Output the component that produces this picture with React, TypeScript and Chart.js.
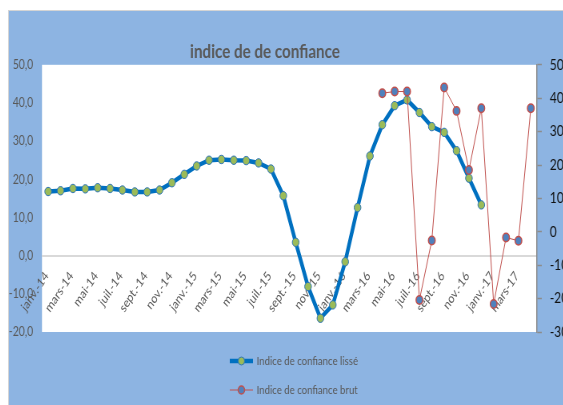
import React, { useEffect, useRef } from 'react';
import { Chart, registerables } from 'chart.js';

Chart.register(...registerables);

const categories = [
  'janv.-14', 'févr.-14', 'mars-14', 'avr.-14', 'mai-14', 'juin-14', 'juil.-14', 'août-14', 'sept.-14', 'oct.-14', 'nov.-14', 'déc.-14',
  'janv.-15', 'févr.-15', 'mars-15', 'avr.-15', 'mai-15', 'juin-15', 'juil.-15', 'août-15', 'sept.-15', 'oct.-15', 'nov.-15', 'déc.-15',
  'janv.-16', 'févr.-16', 'mars-16', 'avr.-16', 'mai-16', 'juin-16', 'juil.-16', 'août-16', 'sept.-16', 'oct.-16', 'nov.-16', 'déc.-16',
  'janv.-17', 'févr.-17', 'mars-17', 'avr.-17',
];

const lisseValues: (number | null)[] = [
  16.8, 17.0, 17.6, 17.5, 17.8, 17.6, 17.2, 16.7, 16.7, 17.2, 19.1, 21.3,
  23.5, 25.0, 25.2, 25.0, 24.9, 24.3, 22.7, 15.7, 3.5, -8.1, -16.4, -12.9,
  -1.6, 12.6, 26.1, 34.3, 39.3, 40.8, 37.5, 33.8, 32.3, 27.5, 20.3, 13.3,
  null, null, null, null,
];

const brutValues: (number | null)[] = [
  null, null, null, null, null, null, null, null, null, null, null, null,
  null, null, null, null, null, null, null, null, null, null, null, null,
  null, null, null, 41.5, 42.0, 42.0, -20.4, -2.6, 43.2, 36.2, 18.5, 37.0,
  -21.6, -1.7, -2.7, 37.0,
];

const seriesNames = ['Indice de confiance lissé', 'Indice de confiance brut'];
const chartTitle = 'indice de de confiance';

const leftAxis = { min: -20, max: 50, step: 10 };
const rightAxis = { min: -30, max: 50, step: 10 };

const BG = '#8DB4E2';
const GREY_TEXT = '#595959';
const FONT = 'Lato';

function makeIcon(lineColor: string, lineWidth: number, fill: string, stroke: string, strokeW: number) {
  const c = document.createElement('canvas');
  c.width = 29;
  c.height = 12;
  const g = c.getContext('2d')!;
  g.strokeStyle = lineColor;
  g.lineWidth = lineWidth;
  g.beginPath();
  g.moveTo(0, 6);
  g.lineTo(29, 6);
  g.stroke();
  g.beginPath();
  g.arc(14.5, 6, 4, 0, Math.PI * 2);
  g.fillStyle = fill;
  g.fill();
  g.strokeStyle = stroke;
  g.lineWidth = strokeW;
  g.stroke();
  return c;
}

export default function App() {
  const ref = useRef<HTMLCanvasElement | null>(null);

  useEffect(() => {
    const canvas = ref.current;
    if (!canvas) return;
    const icons = [
      makeIcon('#0070C0', 4.5, '#9BBB59', '#2E75B6', 1),
      makeIcon('#C0504D', 1, '#4F81BD', '#C0504D', 1.5),
    ];

    const bgPlugin = {
      id: 'bgPlugin',
      beforeDraw(chart: any) {
        const { ctx, chartArea: a } = chart;
        ctx.save();
        ctx.fillStyle = BG;
        ctx.fillRect(0, 0, chart.width, chart.height);
        ctx.fillStyle = '#ffffff';
        ctx.fillRect(a.left, a.top, a.right - a.left, a.bottom - a.top);
        ctx.restore();
      },
    };

    const placePlugin = {
      id: 'placePlugin',
      afterLayout(chart: any) {
        const t = chart.titleBlock;
        if (t) {
          t.left = 170;
          t.right = 470;
          t.width = 300;
        }
        const lg = chart.legend;
        if (lg) {
          lg.left = 260.5;
          lg.top = 327;
          lg.right = 700;
          lg.bottom = 410;
          lg.width = lg.right - lg.left;
          lg.height = lg.bottom - lg.top;
        }
      },
    };

    const chart = new Chart(canvas, {
      type: 'line',
      data: {
        labels: categories,
        datasets: [
          {
            label: seriesNames[0],
            data: lisseValues,
            yAxisID: 'y',
            borderColor: '#0070C0',
            borderWidth: 4.5,
            pointRadius: 4.2,
            pointBackgroundColor: '#9BBB59',
            pointBorderColor: '#2E75B6',
            pointBorderWidth: 1,
            tension: 0,
            order: 1,
          },
          {
            label: seriesNames[1],
            data: brutValues,
            yAxisID: 'y1',
            borderColor: '#C0504D',
            borderWidth: 1,
            pointRadius: 4.2,
            pointBackgroundColor: '#4F81BD',
            pointBorderColor: '#C0504D',
            pointBorderWidth: 1.5,
            tension: 0,
            order: 0,
          },
        ],
      },
      options: {
        responsive: false,
        animation: false,
        devicePixelRatio: 1,
        layout: { padding: { top: 0, left: 0, right: 0, bottom: 74 } },
        scales: {
          x: {
            type: 'category',
            position: { y: 0 } as any,
            offset: true,
            grid: { display: false, drawTicks: false },
            border: { display: false },
            ticks: {
              autoSkip: false,
              minRotation: 51,
              maxRotation: 51,
              padding: 13,
              labelOffset: -2,
              color: GREY_TEXT,
              font: { family: FONT, size: 13 },
              callback: (_v: any, i: number) => (i % 2 === 0 ? categories[i] : ''),
            },
          },
          y: {
            position: 'left',
            min: leftAxis.min,
            max: leftAxis.max,
            ticks: {
              stepSize: leftAxis.step,
              padding: 11,
              color: GREY_TEXT,
              font: { family: FONT, size: 13 },
              callback: (v: any) => Number(v).toFixed(1).replace('.', ','),
            },
            grid: {
              drawTicks: false,
              color: (c: any) => (c.tick && c.tick.value === 0 ? '#d9d9d9' : 'rgba(0,0,0,0)'),
              lineWidth: 2,
            },
            border: { display: false },
            afterFit: (s: any) => {
              s.width = 41.25;
            },
          },
          y1: {
            position: 'right',
            min: rightAxis.min,
            max: rightAxis.max,
            ticks: {
              stepSize: rightAxis.step,
              padding: 10,
              color: '#111111',
              font: { family: FONT, size: 15 },
            },
            grid: {
              drawOnChartArea: false,
              drawTicks: true,
              tickLength: 6,
              tickColor: '#8c8c8c',
              tickWidth: 1.5,
            },
            border: { display: true, color: '#8c8c8c', width: 1.5 },
            afterFit: (s: any) => {
              s.width = 65;
            },
          },
        },
        plugins: {
          title: {
            display: true,
            text: chartTitle,
            color: GREY_TEXT,
            font: { family: FONT, size: 19, weight: 'bold' },
            padding: { top: 29, bottom: 2 },
          },
          legend: {
            position: 'chartArea' as any,
            align: 'start',
            labels: {
              usePointStyle: true,
              pointStyleWidth: 26,
              boxHeight: 12,
              padding: 17,
              color: GREY_TEXT,
              font: { family: FONT, size: 12 },
              generateLabels: (ch: any) =>
                (Chart.defaults.plugins.legend.labels.generateLabels as any)(ch)
                  .sort((a: any, b: any) => a.datasetIndex - b.datasetIndex)
                  .map((it: any) => ({ ...it, pointStyle: icons[it.datasetIndex] })),
            },
          },
          tooltip: { enabled: false },
        },
      } as any,
      plugins: [bgPlugin, placePlugin],
    });

    return () => chart.destroy();
  }, []);

  return (
    <div
      style={{
        position: 'fixed',
        left: 8,
        top: 10,
        right: 0,
        bottom: 0,
        overflow: 'hidden',
        borderTop: '1px solid #d4d4d4',
        borderLeft: '1px solid #d4d4d4',
        background: BG,
      }}
    >
      <canvas ref={ref} width={725} height={395} style={{ width: '580px', height: '395px', display: 'block' }} />
    </div>
  );
}
